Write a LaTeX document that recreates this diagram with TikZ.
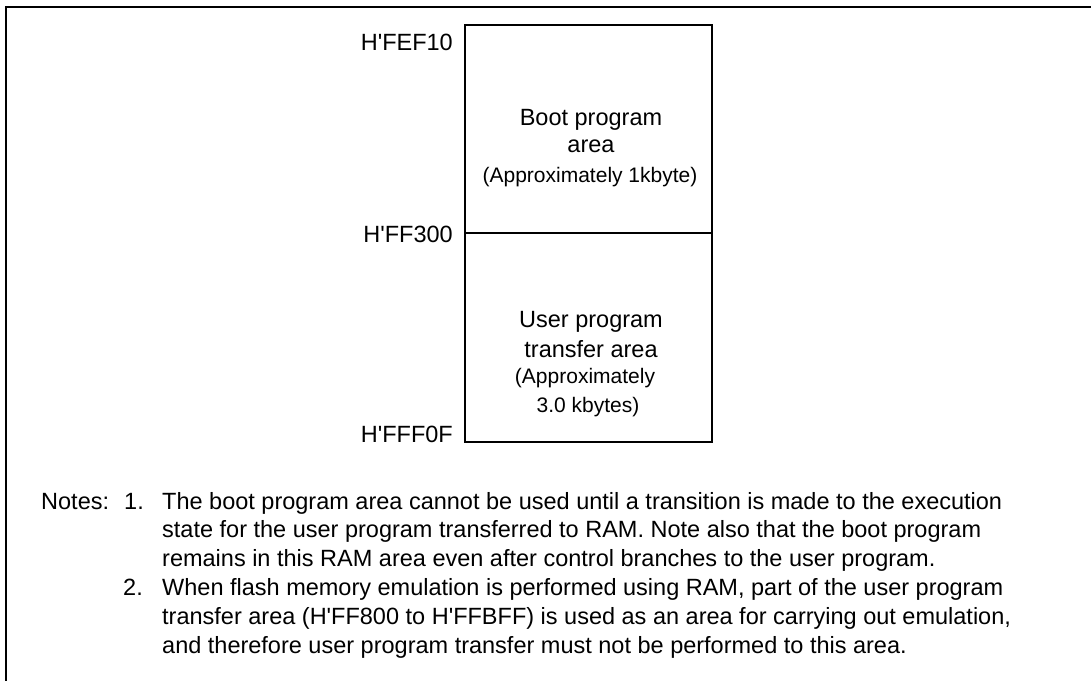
\documentclass[tikz,border=0pt]{standalone}
\usepackage{fontspec}
\setmainfont{Liberation Sans}
\newcommand{\hx}{H\textquotesingle}

\tikzset{
  addr/.style={anchor=base east, inner sep=0pt, font=\fontsize{23.5}{28}\selectfont},
  areatxt/.style={anchor=base, inner sep=0pt, font=\fontsize{23.5}{28}\selectfont},
  areasmall/.style={anchor=base, inner sep=0pt, font=\fontsize{21}{26}\selectfont},
  notetxt/.style={anchor=base west, inner sep=0pt, font=\fontsize{23.5}{28}\selectfont},
}

\begin{document}
\begin{tikzpicture}[x=1pt, y=-1pt]
    \useasboundingbox (0,0) rectangle (1091,680);

    % outer frame (runs off the page right and bottom)
    \begin{scope}
      \clip (0,0) rectangle (1091,680);
      \draw[line width=2.5pt] (6,700) -- (6,7) -- (1100,7);
    \end{scope}

    \coordinate (TL) at (465,25);
    \coordinate (BR) at (712,442);
    \coordinate (ML) at (465,233);
    \coordinate (MR) at (712,233);

    \draw[line width=1.3pt] (TL) rectangle (BR);
    \draw[line width=1.2pt] (ML) -- (MR);

    \node[addr] (a1) at (453,50) {\hx FEF10};
    \node[addr] (a2) at (453,242) {\hx FF300};
    \node[addr] (a3) at (453,442) {\hx FFF0F};

    \node[areatxt] (boot1) at (591,125) {Boot program};
    \node[areatxt] (boot2) at (591,152) {area};
    \node[areasmall] (boot3) at (590,182) {(Approximately 1kbyte)};

    \node[areatxt] (user1) at (591,327) {User program};
    \node[areatxt] (user2) at (591,357) {transfer area};
    \node[areasmall] (user3) at (585,383) {(Approximately};
    \node[areasmall] (user4) at (588,412) {3.0 kbytes)};

    \node[notetxt] (notes) at (41,509) {Notes:};
    \node[notetxt] (n1) at (124,509) {1.};
    \node[notetxt] (n1a) at (162,509) {The boot program area cannot be used until a transition is made to the execution};
    \node[notetxt] (n1b) at (162,537.8) {state for the user program transferred to RAM. Note also that the boot program};
    \node[notetxt] (n1c) at (162,566.6) {remains in this RAM area even after control branches to the user program.};
    \node[notetxt] (n2) at (123,595.4) {2.};
    \node[notetxt] (n2a) at (162,595.4) {When flash memory emulation is performed using RAM, part of the user program};
    \node[notetxt] (n2b) at (162,624.2) {transfer area (\hx FF800 to \hx FFBFF) is used as an area for carrying out emulation,};
    \node[notetxt] (n2c) at (162,653) {and therefore user program transfer must not be performed to this area.};
\end{tikzpicture}
\end{document}
